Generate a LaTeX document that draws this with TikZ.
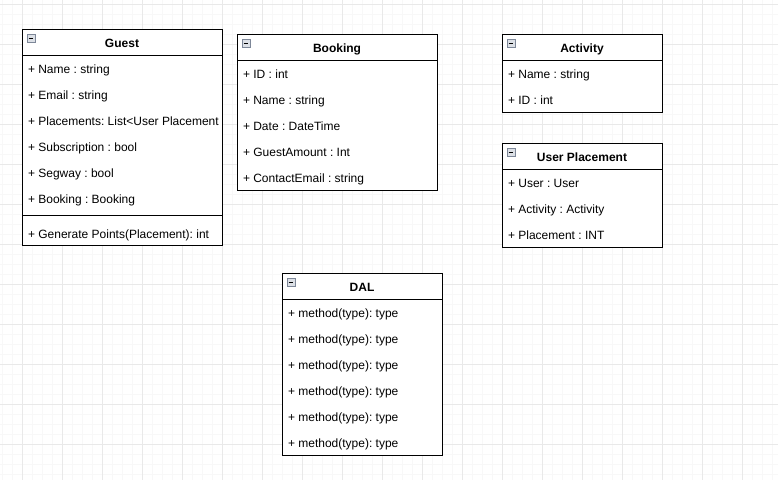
\documentclass[tikz,border=0pt]{standalone}
\usepackage{fontspec}
\setmainfont{Liberation Sans}
\frenchspacing
\usetikzlibrary{positioning}
\definecolor{gridminor}{RGB}{248,248,248}
\definecolor{gridmajor}{RGB}{233,233,233}
\definecolor{iconframe}{RGB}{125,135,152}
\definecolor{iconfill}{RGB}{220,224,230}

\begin{document}
\begin{tikzpicture}[x=0.75pt, y=-0.75pt, font=\fontsize{9}{11}\selectfont,
  classhead/.style={draw=black, fill=white, line width=0.75pt, rectangle, anchor=north west, minimum height=19.5pt, inner sep=0pt, outer sep=0pt, text height=8.5pt, text depth=0.5pt, font=\fontsize{9}{11}\selectfont\bfseries},
  classbody/.style={draw=black, fill=white, line width=0.75pt, rectangle, inner sep=0pt, outer sep=0pt},
  attr/.style={rectangle, inner xsep=4.5pt, inner ysep=0pt, outer sep=0pt, minimum height=19.5pt, text height=8.5pt, text depth=0.5pt},
  collapse/.style={draw=iconframe, fill=iconfill, rectangle, minimum size=6pt, inner sep=0pt, outer sep=0pt, line width=0.6pt,
    path picture={\draw[black, line width=0.8pt] ([xshift=1.3pt]path picture bounding box.west) -- ([xshift=-1.3pt]path picture bounding box.east);}},
  minorline/.style={draw=gridminor, line width=0.75pt},
  majorline/.style={draw=gridmajor, line width=0.75pt}
]

  % Canvas and grid
  \useasboundingbox (0,0) rectangle (778,480);
  \fill[white] (0,0) rectangle (778,480);
  \foreach \gx in {2,12,...,772} \draw[minorline] (\gx,0) -- (\gx,480);
  \foreach \gy in {4,14,...,474} \draw[minorline] (0,\gy) -- (778,\gy);
  \foreach \gx in {22,62,...,762} \draw[majorline] (\gx,0) -- (\gx,480);
  \foreach \gy in {4,44,...,444} \draw[majorline] (0,\gy) -- (778,\gy);

  % Guest
  \node [classhead, minimum width=150pt] (guesthead) at (22,29) {Guest};
  \node [classbody, minimum width=150pt, minimum height=120pt, below=0pt of guesthead] (guestbody) {};
  \node [classbody, minimum width=150pt, minimum height=22.5pt, below=0pt of guestbody] (guestops) {};
  \node [collapse, below right=4pt and 3.75pt of guesthead.north west] (guesticon) {};
  \node [attr, below right=0pt of guestbody.north west] (guestname) {+ Name : string};
  \node [attr, below right=0pt of guestname.south west] (guestemail) {+ Email : string};
  \node [attr, below right=0pt of guestemail.south west] (guestplacements) {+ Placements: List<User Placement};
  \node [attr, below right=0pt of guestplacements.south west] (guestsubscription) {+ Subscription : bool};
  \node [attr, below right=0pt of guestsubscription.south west] (guestsegway) {+ Segway : bool};
  \node [attr, below right=0pt of guestsegway.south west] (guestbooking) {+ Booking : Booking};
  \node [attr, below right=4pt and 0pt of guestops.north west] (guestpoints) {+ Generate Points(Placement): int};

  % Booking
  \node [classhead, minimum width=150pt] (bookinghead) at (237,34) {Booking};
  \node [classbody, minimum width=150pt, minimum height=97.5pt, below=0pt of bookinghead] (bookingbody) {};
  \node [collapse, below right=4pt and 3.75pt of bookinghead.north west] (bookingicon) {};
  \node [attr, below right=0pt of bookingbody.north west] (bookingid) {+ ID : int};
  \node [attr, below right=0pt of bookingid.south west] (bookingname) {+ Name : string};
  \node [attr, below right=0pt of bookingname.south west] (bookingdate) {+ Date : DateTime};
  \node [attr, below right=0pt of bookingdate.south west] (bookingguests) {+ GuestAmount : Int};
  \node [attr, below right=0pt of bookingguests.south west] (bookingemail) {+ ContactEmail : string};

  % Activity
  \node [classhead, minimum width=120pt] (activityhead) at (502,34) {Activity};
  \node [classbody, minimum width=120pt, minimum height=39pt, below=0pt of activityhead] (activitybody) {};
  \node [collapse, below right=4pt and 3.75pt of activityhead.north west] (activityicon) {};
  \node [attr, below right=0pt of activitybody.north west] (activityname) {+ Name : string};
  \node [attr, below right=0pt of activityname.south west] (activityid) {+ ID : int};

  % User Placement
  \node [classhead, minimum width=120pt] (placementhead) at (502,143) {User Placement};
  \node [classbody, minimum width=120pt, minimum height=58.5pt, below=0pt of placementhead] (placementbody) {};
  \node [collapse, below right=4pt and 3.75pt of placementhead.north west] (placementicon) {};
  \node [attr, below right=0pt of placementbody.north west] (placementuser) {+ User : User};
  \node [attr, below right=0pt of placementuser.south west] (placementactivity) {+ Activity : Activity};
  \node [attr, below right=0pt of placementactivity.south west] (placementvalue) {+ Placement : INT};

  % DAL
  \node [classhead, minimum width=120pt] (dalhead) at (282,273) {DAL};
  \node [classbody, minimum width=120pt, minimum height=117pt, below=0pt of dalhead] (dalbody) {};
  \node [collapse, below right=4pt and 3.75pt of dalhead.north west] (dalicon) {};
  \node [attr, below right=0pt of dalbody.north west] (dalone) {+ method(type): type};
  \node [attr, below right=0pt of dalone.south west] (daltwo) {+ method(type): type};
  \node [attr, below right=0pt of daltwo.south west] (dalthree) {+ method(type): type};
  \node [attr, below right=0pt of dalthree.south west] (dalfour) {+ method(type): type};
  \node [attr, below right=0pt of dalfour.south west] (dalfive) {+ method(type): type};
  \node [attr, below right=0pt of dalfive.south west] (dalsix) {+ method(type): type};

\end{tikzpicture}
\end{document}
